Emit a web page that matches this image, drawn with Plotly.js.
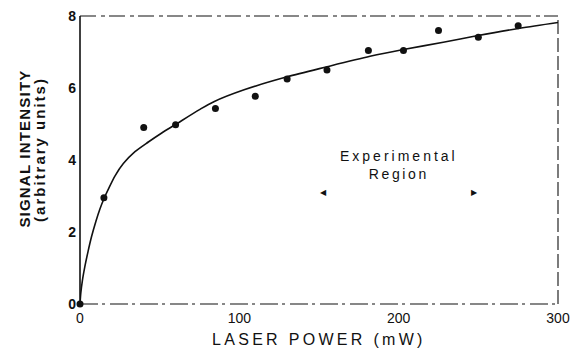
<!DOCTYPE html>
<html>
<head>
<meta charset="utf-8">
<script src="https://cdn.plot.ly/plotly-3.0.1.min.js"></script>
<style>
html,body{margin:0;padding:0;background:#fff;}
#chart{width:575px;height:354px;}
</style>
</head>
<body>
<div id="chart"></div>
<script>
// Measured data points
var powerPts  = [0, 15, 40, 60, 85, 110, 130, 155, 181, 203, 225, 250, 275];
var signalPts = [0, 2.95, 4.90, 4.98, 5.43, 5.77, 6.25, 6.50, 7.04, 7.04, 7.60, 7.41, 7.73];

// Fitted curve
var fitPower  = [0, 0.5, 1.5, 3.1, 5, 7.3, 10, 12.5, 15.3, 17.8, 22, 27.2, 34.5, 42.9, 51.3, 59.7, 75, 84, 103, 130, 155, 182, 203, 228, 249, 276, 300];
var fitSignal = [0, 0.30, 0.65, 1.05, 1.45, 1.88, 2.30, 2.64, 2.95, 3.19, 3.56, 3.90, 4.23, 4.50, 4.75, 4.98, 5.40, 5.62, 5.95, 6.31, 6.59, 6.88, 7.07, 7.27, 7.45, 7.66, 7.82];

var xTicks = [0, 100, 200, 300];
var yTicks = [0, 2, 4, 6, 8];

var xTitle = 'LASER POWER (mW)';
var yTitle1 = 'SIGNAL INTENSITY';
var yTitle2 = '(arbitrary units)';
var noteText = ['Experimental', 'Region'];

var ink = '#111';
var font = 'Liberation Sans, Arial, Helvetica, sans-serif';

function spaced(t, px){ return '<span style="letter-spacing:' + px + 'px">' + t + '</span>'; }

var traces = [
  {x: fitPower, y: fitSignal, type: 'scatter', mode: 'lines',
   line: {color: ink, width: 1.6, shape: 'spline', smoothing: 0.8},
   hoverinfo: 'skip', cliponaxis: false},
  {x: powerPts, y: signalPts, type: 'scatter', mode: 'markers',
   marker: {color: ink, size: 7}, cliponaxis: false}
];

var layout = {
  width: 575, height: 354,
  margin: {l: 80, r: 17, t: 16, b: 50},
  paper_bgcolor: '#fff', plot_bgcolor: '#fff',
  showlegend: false,
  font: {family: font, color: ink},
  xaxis: {range: [0, 300], tickvals: xTicks, ticktext: xTicks.map(String),
          showgrid: false, zeroline: false, showline: false, ticks: '',
          ticklabelstandoff: 4,
          tickfont: {family: font, size: 14, color: ink}},
  yaxis: {range: [0, 8], tickvals: yTicks, ticktext: yTicks.map(String),
          showgrid: false, zeroline: false, showline: false, ticks: '',
          ticklabelstandoff: 3,
          tickfont: {family: font, size: 14, color: ink, weight: 'bold'}},
  shapes: [
    {type: 'line', xref: 'paper', yref: 'paper', x0: 0, x1: 0, y0: 0, y1: 1,
     line: {color: ink, width: 1.6}},
    {type: 'line', xref: 'paper', yref: 'paper', x0: 0, x1: 1, y0: 0, y1: 0,
     line: {color: ink, width: 1.2, dash: '18px,4px,3px,5px'}},
    {type: 'line', xref: 'paper', yref: 'paper', x0: 0, x1: 1, y0: 1, y1: 1,
     line: {color: ink, width: 1.2, dash: '16px,5px,4px,4px'}},
    {type: 'line', xref: 'paper', yref: 'paper', x0: 1, x1: 1, y0: 0, y1: 1,
     line: {color: ink, width: 1.1, dash: '14px,4px'}}
  ],
  annotations: [
    {xref: 'x', yref: 'y', x: 200, y: 3.87, showarrow: false, align: 'center',
     xanchor: 'center', yanchor: 'middle',
     text: spaced(noteText[0], 3) + '<br>' + spaced(noteText[1], 2.6),
     font: {family: font, size: 14, color: ink}},
    {xref: 'paper', yref: 'paper', x: 0.5, y: -0.122, showarrow: false,
     xanchor: 'center', yanchor: 'middle',
     text: spaced(xTitle, 3.3), font: {family: font, size: 16, color: ink}},
    {xref: 'paper', yref: 'paper', x: -0.116, y: 0.538, showarrow: false, textangle: -90,
     xanchor: 'center', yanchor: 'middle',
     text: spaced(yTitle1, 1.2), font: {family: font, size: 15, color: ink, weight: 'bold'}},
    {xref: 'paper', yref: 'paper', x: -0.086, y: 0.538, showarrow: false, textangle: -90,
     xanchor: 'center', yanchor: 'middle',
     text: spaced(yTitle2, 2), font: {family: font, size: 15, color: ink, weight: 'bold'}},
    {xref: 'x', yref: 'y', x: 152.6, y: 3.11, showarrow: false,
     xanchor: 'center', yanchor: 'middle',
     text: '◀', font: {family: 'DejaVu Sans', size: 8, color: ink}},
    {xref: 'x', yref: 'y', x: 247.5, y: 3.11, showarrow: false,
     xanchor: 'center', yanchor: 'middle',
     text: '▶', font: {family: 'DejaVu Sans', size: 8, color: ink}}
  ]
};

Plotly.newPlot('chart', traces, layout, {displayModeBar: false, staticPlot: true});
</script>
</body>
</html>
